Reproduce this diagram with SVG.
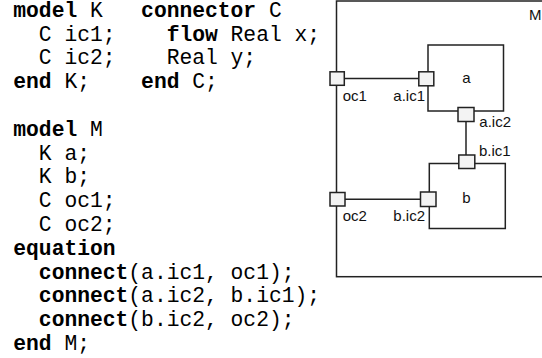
<svg xmlns="http://www.w3.org/2000/svg" width="542" height="358" viewBox="0 0 542 358">
<style>
.code{font-family:"Liberation Mono","Courier New",monospace;font-size:21.3px;fill:#000;white-space:pre}
.kw{font-weight:bold}
.box{fill:none;stroke:#222;stroke-width:1.5}
.port{fill:#f3f3f3;stroke:#222;stroke-width:1.5}
.lbl{font-family:"Liberation Sans",Arial,sans-serif;font-size:15px;fill:#111}
.wire{stroke:#222;stroke-width:1.5;fill:none}
</style>
<rect width="542" height="358" fill="#fff"/>
<g id="code" class="code">
<text xml:space="preserve" x="13.3" y="16.7"><tspan class="kw">model</tspan> K   <tspan class="kw">connector</tspan> C</text>
<text xml:space="preserve" x="13.3" y="40.5">  C ic1;    <tspan class="kw">flow</tspan> Real x;</text>
<text xml:space="preserve" x="13.3" y="64.3">  C ic2;    Real y;</text>
<text xml:space="preserve" x="13.3" y="88.1"><tspan class="kw">end</tspan> K;    <tspan class="kw">end</tspan> C;</text>
<text xml:space="preserve" x="13.3" y="135.7"><tspan class="kw">model</tspan> M</text>
<text xml:space="preserve" x="13.3" y="159.5">  K a;</text>
<text xml:space="preserve" x="13.3" y="183.3">  K b;</text>
<text xml:space="preserve" x="13.3" y="207.1">  C oc1;</text>
<text xml:space="preserve" x="13.3" y="230.9">  C oc2;</text>
<text xml:space="preserve" x="13.3" y="254.7"><tspan class="kw">equation</tspan></text>
<text xml:space="preserve" x="13.3" y="278.5">  <tspan class="kw">connect</tspan>(a.ic1, oc1);</text>
<text xml:space="preserve" x="13.3" y="302.3">  <tspan class="kw">connect</tspan>(a.ic2, b.ic1);</text>
<text xml:space="preserve" x="13.3" y="326.1">  <tspan class="kw">connect</tspan>(b.ic2, oc2);</text>
<text xml:space="preserve" x="13.3" y="349.9"><tspan class="kw">end</tspan> M;</text>
</g>
<g id="M">
<rect class="box" x="336.5" y="1" width="220" height="275.7"/>
<text class="lbl" x="529" y="20">M</text>
</g>
<g id="a">
<rect class="box" x="428" y="45" width="75.5" height="66"/>
<text class="lbl" x="466.5" y="83" text-anchor="middle">a</text>
</g>
<g id="b">
<rect class="box" x="429.3" y="163.5" width="76" height="65"/>
<text class="lbl" x="466.5" y="203" text-anchor="middle">b</text>
</g>
<g id="connectors">
<line class="wire" x1="344" y1="78.5" x2="419" y2="78.5"/>
<line class="wire" x1="466" y1="121" x2="466" y2="155"/>
<line class="wire" x1="345" y1="199.3" x2="420" y2="199.3"/>
</g>
<g id="oc1">
<rect class="port" x="330" y="71.8" width="14.3" height="13.5"/>
<text class="lbl" x="342.7" y="100.7">oc1</text>
</g>
<g id="a.ic1">
<rect class="port" x="418.8" y="71.8" width="15" height="14"/>
<text class="lbl" x="425" y="100.7" text-anchor="end">a.ic1</text>
</g>
<g id="a.ic2">
<rect class="port" x="458" y="107.5" width="16" height="14"/>
<text class="lbl" x="479.3" y="126.7">a.ic2</text>
</g>
<g id="b.ic1">
<rect class="port" x="458.8" y="155" width="16" height="13.5"/>
<text class="lbl" x="479" y="156">b.ic1</text>
</g>
<g id="oc2">
<rect class="port" x="330" y="192.5" width="15" height="13.5"/>
<text class="lbl" x="342.7" y="220.7">oc2</text>
</g>
<g id="b.ic2">
<rect class="port" x="420.5" y="192" width="15.5" height="14.5"/>
<text class="lbl" x="425" y="220.7" text-anchor="end">b.ic2</text>
</g>
</svg>
